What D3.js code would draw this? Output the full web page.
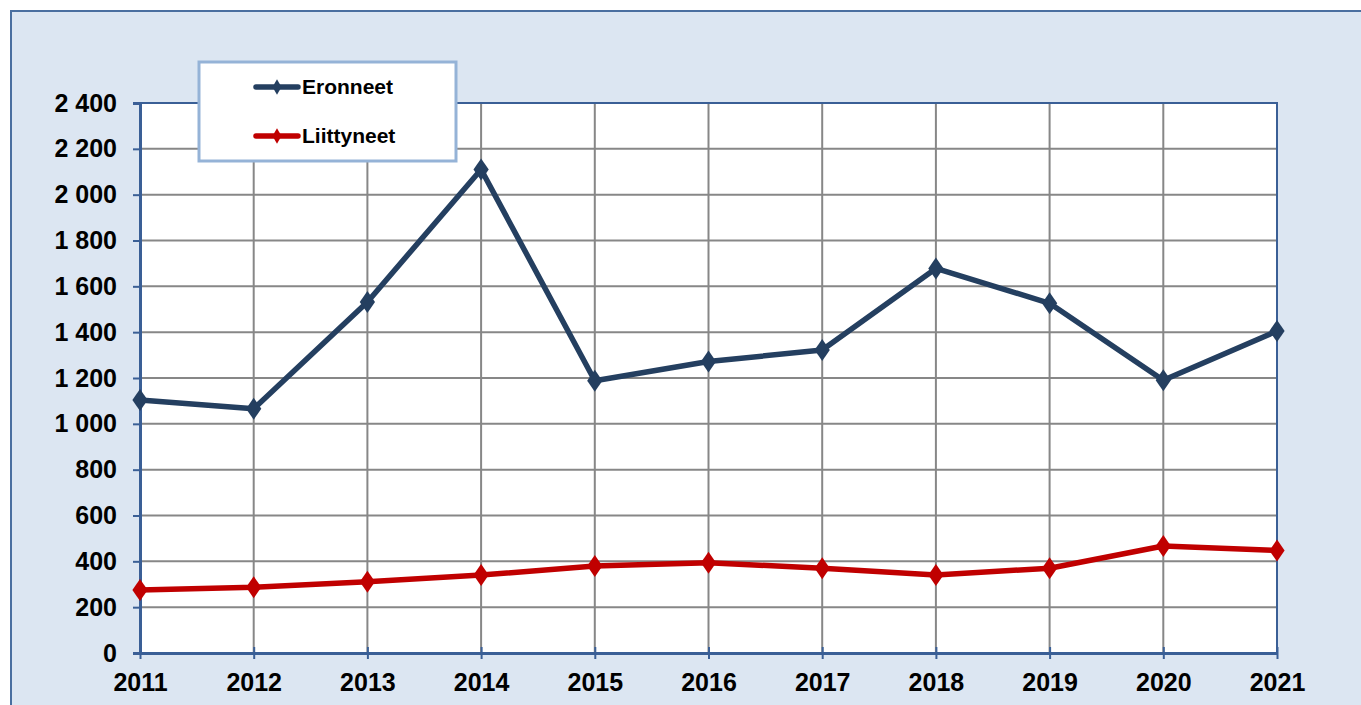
<!DOCTYPE html>
<html>
<head>
<meta charset="utf-8">
<script src="https://cdn.jsdelivr.net/npm/d3@7"></script>
<style>
  body { margin: 0; background: #ffffff; }
  svg { display: block; font-family: "Liberation Sans", Arial, sans-serif; }
</style>
</head>
<body>
<div id="chart"></div>
<script>
// values
let years = [2011, 2012, 2013, 2014, 2015, 2016, 2017, 2018, 2019, 2020, 2021];
let eronneet = [1104, 1066, 1532, 2110, 1188, 1272, 1322, 1678, 1526, 1190, 1405];
let liittyneet = [275, 287, 311, 340, 380, 394, 370, 340, 370, 467, 447];
let yTicks = [0, 200, 400, 600, 800, 1000, 1200, 1400, 1600, 1800, 2000, 2200, 2400];
let seriesNames = ["Eronneet", "Liittyneet"];
let seriesColors = ["#243f60", "#c00000"];

class LineChart {
  constructor() {
    this.svgWidth = 1361;
    this.svgHeight = 705;
    this.margin = {top: 103, right: 84, bottom: 52, left: 140};
    this.svg = d3.select("#chart").append("svg")
      .attr("width", this.svgWidth)
      .attr("height", this.svgHeight);
  }

  draw() {
    let svg = this.svg;
    let m = this.margin;
    let x0 = m.left, x1 = this.svgWidth - m.right;
    let y0 = this.svgHeight - m.bottom, y1 = m.top;

    // outer frame
    svg.append("rect")
      .attr("x", 11).attr("y", 11)
      .attr("width", this.svgWidth).attr("height", this.svgHeight)
      .attr("fill", "#dce6f2")
      .attr("stroke", "#4a6fa0")
      .attr("stroke-width", 2);

    let xScale = d3.scaleLinear().domain([years[0], years[years.length - 1]]).range([x0, x1]);
    let yScale = d3.scaleLinear().domain([0, 2400]).range([y0, y1]);

    svg.append("rect")
      .attr("x", x0).attr("y", y1)
      .attr("width", x1 - x0).attr("height", y0 - y1)
      .attr("fill", "#ffffff");

    // grid
    svg.append("g").selectAll("line").data(yTicks.slice(1))
      .join("line")
      .attr("x1", x0).attr("x2", x1)
      .attr("y1", d => yScale(d)).attr("y2", d => yScale(d))
      .attr("stroke", "#878787").attr("stroke-width", 2);
    svg.append("g").selectAll("line").data(years.slice(1))
      .join("line")
      .attr("x1", d => xScale(d)).attr("x2", d => xScale(d))
      .attr("y1", y1).attr("y2", y0)
      .attr("stroke", "#878787").attr("stroke-width", 2);

    // plot border top/right
    svg.append("path")
      .attr("d", `M${x0},${y1}H${x1}V${y0}`)
      .attr("fill", "none")
      .attr("stroke", "#3a5f96").attr("stroke-width", 2);

    // y axis
    let yAxis = d3.axisLeft(yScale)
      .tickValues(yTicks)
      .tickSize(7)
      .tickPadding(16)
      .tickFormat(d => d3.format(",")(d).replace(/,/g, " "));
    let gy = svg.append("g")
      .attr("transform", `translate(${x0},0)`)
      .call(yAxis);
    gy.select(".domain").attr("stroke", "#3a5f96").attr("stroke-width", 3);
    gy.selectAll(".tick line").attr("stroke", "#3a5f96").attr("stroke-width", 2);
    gy.selectAll(".tick text")
      .attr("fill", "#000").attr("font-size", 25).attr("font-weight", "bold");

    // x axis
    let xAxis = d3.axisBottom(xScale)
      .tickValues(years)
      .tickSizeInner(6)
      .tickSizeOuter(0)
      .tickPadding(14)
      .tickFormat(d3.format("d"));
    let gx = svg.append("g")
      .attr("transform", `translate(0,${y0})`)
      .call(xAxis);
    gx.select(".domain").attr("stroke", "#3a5f96").attr("stroke-width", 3);
    gx.selectAll(".tick line")
      .attr("y1", -6)
      .attr("stroke", "#3a5f96").attr("stroke-width", 2);
    gx.selectAll(".tick text")
      .attr("fill", "#000").attr("font-size", 25).attr("font-weight", "bold");

    // lines
    let allSeries = [eronneet, liittyneet];
    let line = d3.line().x((d, i) => xScale(years[i])).y(d => yScale(d));
    let diamond = d3.symbol().type(d3.symbolDiamond).size(140);

    allSeries.forEach((vals, s) => {
      svg.append("path")
        .datum(vals)
        .attr("d", line)
        .attr("fill", "none")
        .attr("stroke", seriesColors[s])
        .attr("stroke-width", 5.5)
        .attr("stroke-linejoin", "round");
      svg.append("g").selectAll("path").data(vals)
        .join("path")
        .attr("d", diamond)
        .attr("transform", (d, i) => `translate(${xScale(years[i])},${yScale(d)}) scale(1.2,1)`)
        .attr("fill", seriesColors[s]);
    });

    // legend
    let lg = svg.append("g");
    lg.append("rect")
      .attr("x", 199).attr("y", 62)
      .attr("width", 257).attr("height", 99)
      .attr("fill", "#ffffff")
      .attr("stroke", "#95b3d7").attr("stroke-width", 3);
    seriesNames.forEach((name, s) => {
      let ly = 87 + s * 49;
      lg.append("line")
        .attr("x1", 256).attr("x2", 298)
        .attr("y1", ly).attr("y2", ly)
        .attr("stroke", seriesColors[s]).attr("stroke-width", 5.5)
        .attr("stroke-linecap", "round");
      lg.append("path")
        .attr("d", d3.symbol().type(d3.symbolDiamond).size(70))
        .attr("transform", `translate(277,${ly})`)
        .attr("fill", seriesColors[s]);
      lg.append("text")
        .attr("x", 302).attr("y", ly + 7)
        .attr("font-size", 21).attr("font-weight", "bold")
        .attr("fill", "#000")
        .text(name);
    });
  }
}

let chart = new LineChart();
chart.draw();
</script>
</body>
</html>
